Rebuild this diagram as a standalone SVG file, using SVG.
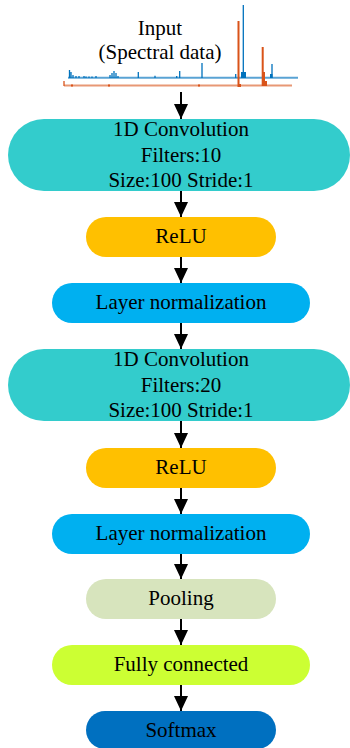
<svg xmlns="http://www.w3.org/2000/svg" width="350" height="748" viewBox="0 0 350 748">
<defs>
<style>
.t{font-family:"Liberation Serif","Times New Roman",serif;font-size:21px;fill:#000;text-anchor:middle}
.conv{fill:#33CCCC}
.relu{fill:#FFC000}
.ln{fill:#00B0F0}
.pool{fill:#D7E4BD}
.fc{fill:#CCFF33}
.soft{fill:#0070C0}
.arr{stroke:#000;stroke-width:2;fill:none;marker-end:url(#ah)}
.bl{stroke:#0072BD;fill:none}
.or{stroke:#D95319;fill:none}
</style>
<marker id="ah" markerUnits="userSpaceOnUse" markerWidth="16" markerHeight="16" viewBox="0 0 16 16" refX="15" refY="8" orient="auto">
<path d="M0,1 L15,8 L0,15 Z" fill="#000"/>
</marker>
</defs>
<rect width="350" height="748" fill="#fff"/>

<g id="input">
<text class="t" x="160" y="35">Input</text>
<text class="t" x="160" y="59">(Spectral data)</text>
<g id="spectrum-blue">
<path class="bl" stroke-width="2" stroke-opacity="0.65" d="M68,77.7 H298"/>
<path class="bl" stroke-width="1.3" d="M69.5,78V70 M71,78V72 M73,78V75 M76,78V76 M79,78V76 M84,78V76 M86,78V76.5 M89,78V76.5 M92,78V76.5 M96,78V76 M110,78V75 M112,78V73 M114,78V71 M116,78V73 M118,78V76 M138.3,78V72 M155,78V75.7 M176.7,78V76 M179.7,78V71 M202,78V63 M235.7,78V74 M243.3,78V5 M272,78V64"/>
<rect x="241" y="72" width="5" height="6" fill="#0072BD"/>
<rect x="270" y="74" width="2.5" height="4" fill="#0072BD"/>
</g>
<g id="spectrum-orange">
<path class="or" stroke-width="2" stroke-opacity="0.6" d="M64,85.5 H292"/>
<path class="or" stroke-width="1.3" d="M64,81V86"/>
<rect x="71" y="84.5" width="2" height="2" fill="#D95319"/>
<rect x="108" y="84.5" width="2" height="2" fill="#D95319"/>
<rect x="198" y="84.5" width="2" height="2" fill="#D95319"/>
<path class="or" stroke-width="2" d="M238.5,87V21 M262.7,86V47"/>
<rect x="238" y="84" width="3" height="3" fill="#D95319"/>
<rect x="262" y="72" width="3" height="14" fill="#D95319"/>
<rect x="265" y="81" width="2" height="5" fill="#D95319"/>
</g>
</g>

<g id="conv1">
<rect class="conv" x="8" y="119" width="342" height="72" rx="36"/>
<text class="t" x="181" y="136">1D Convolution</text>
<text class="t" x="181" y="162">Filters:10</text>
<text class="t" x="181" y="187">Size:100 Stride:1</text>
</g>
<g id="relu1">
<rect class="relu" x="86" y="217" width="190" height="40" rx="20"/>
<text class="t" x="181" y="243">ReLU</text>
</g>
<g id="ln1">
<rect class="ln" x="52" y="283" width="258" height="40" rx="20"/>
<text class="t" x="181" y="309">Layer normalization</text>
</g>
<g id="conv2">
<rect class="conv" x="8" y="349" width="342" height="72" rx="36"/>
<text class="t" x="181" y="366">1D Convolution</text>
<text class="t" x="181" y="392">Filters:20</text>
<text class="t" x="181" y="417">Size:100 Stride:1</text>
</g>
<g id="relu2">
<rect class="relu" x="86" y="448" width="190" height="40" rx="20"/>
<text class="t" x="181" y="474">ReLU</text>
</g>
<g id="ln2">
<rect class="ln" x="52" y="514" width="258" height="40" rx="20"/>
<text class="t" x="181" y="540">Layer normalization</text>
</g>
<g id="pooling">
<rect class="pool" x="86" y="579" width="190" height="40" rx="20"/>
<text class="t" x="181" y="605">Pooling</text>
</g>
<g id="fc">
<rect class="fc" x="52" y="645" width="258" height="40" rx="20"/>
<text class="t" x="181" y="671">Fully connected</text>
</g>
<g id="softmax">
<rect class="soft" x="86" y="711" width="190" height="38" rx="19"/>
<text class="t" x="181" y="737">Softmax</text>
</g>

<g id="connectors">
<line class="arr" x1="181" y1="92" x2="181" y2="119"/>
<line class="arr" x1="181" y1="191" x2="181" y2="217"/>
<line class="arr" x1="181" y1="257" x2="181" y2="283"/>
<line class="arr" x1="181" y1="323" x2="181" y2="349"/>
<line class="arr" x1="181" y1="421" x2="181" y2="448"/>
<line class="arr" x1="181" y1="488" x2="181" y2="514"/>
<line class="arr" x1="181" y1="554" x2="181" y2="579"/>
<line class="arr" x1="181" y1="619" x2="181" y2="645"/>
<line class="arr" x1="181" y1="685" x2="181" y2="711"/>
</g>
</svg>
